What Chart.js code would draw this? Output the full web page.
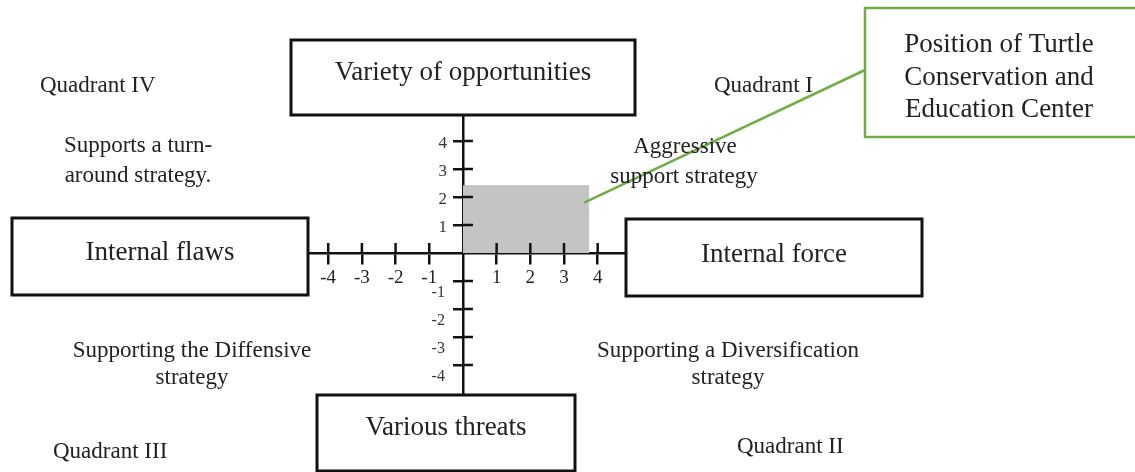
<!DOCTYPE html>
<html>
<head>
<meta charset="utf-8">
<script src="https://cdn.jsdelivr.net/npm/chart.js@4.4.1/dist/chart.umd.min.js"></script>
<style>
  html, body { margin: 0; padding: 0; background: #fff; }
  #wrap { width: 1135px; height: 472px; position: relative; }
</style>
</head>
<body>
<div id="wrap"><canvas id="chart"></canvas></div>
<script>
// ===== data =====
const xTickValues = [-4, -3, -2, -1, 1, 2, 3, 4];
const yTickValues = [4, 3, 2, 1, -1, -2, -3, -4];
// position of the centre (shaded area from origin to this point)
const positionX = [0, 3.75];
const positionY = [2.4, 2.4];
// where the callout line leaves the shaded area
const connectorFrom = [3.6, 1.8];

const SERIF = "'Liberation Serif', 'Times New Roman', serif";
const INK = '#222';
const GREEN = '#70ad47';

// boxed axis captions
const captionBoxes = [
  { text: 'Variety of opportunities', x: 291, y: 40, w: 344, h: 75, base: 80 },
  { text: 'Internal flaws', x: 12, y: 218, w: 296, h: 77, base: 260 },
  { text: 'Internal force', x: 626, y: 219, w: 296, h: 77, base: 262 },
  { text: 'Various threats', x: 317, y: 395, w: 258, h: 76, base: 435 },
];

// quadrant notes: [text, x, baseline, align]
const notes = [
  ['Quadrant IV', 40, 92, 'left'],
  ['Quadrant I', 714, 92, 'left'],
  ['Supports a turn-', 138, 152, 'center'],
  ['around strategy.', 138, 182, 'center'],
  ['Aggressive', 685, 153, 'center'],
  ['support strategy', 684, 183, 'center'],
  ['Supporting the Diffensive', 192, 357, 'center'],
  ['strategy', 192, 384, 'center'],
  ['Supporting a Diversification', 728, 357, 'center'],
  ['strategy', 728, 384, 'center'],
  ['Quadrant III', 53, 458, 'left'],
  ['Quadrant II', 737, 453, 'left'],
];

const callout = {
  lines: ['Position of Turtle', 'Conservation and', 'Education Center'],
  x: 865, y: 8, w: 280, h: 129, cx: 999, bases: [52, 85, 117],
};

const diagramPlugin = {
  id: 'diagram',
  afterDraw(chart) {
    const { ctx, scales: { x, y } } = chart;
    const x0 = x.getPixelForValue(0);
    const y0 = y.getPixelForValue(0);
    ctx.save();

    // other half of the tick marks, so they cross the axes
    ctx.strokeStyle = '#111';
    ctx.lineWidth = 2.5;
    ctx.beginPath();
    x.ticks.forEach(t => {
      const px = x.getPixelForValue(t.value);
      ctx.moveTo(px, y0 - 10);
      ctx.lineTo(px, y0);
    });
    y.ticks.forEach(t => {
      const py = y.getPixelForValue(t.value);
      ctx.moveTo(x0, py);
      ctx.lineTo(x0 + 10, py);
    });
    ctx.stroke();

    // y tick labels, left of the tick marks (negatives sit a bit lower, clear of the x labels)
    ctx.fillStyle = '#333';
    ctx.textAlign = 'right';
    ctx.textBaseline = 'middle';
    y.ticks.forEach(t => {
      const neg = t.value < 0;
      ctx.font = `${neg ? 16 : 17}px ${SERIF}`;
      ctx.fillText(String(t.value), x0 - (neg ? 18 : 16), y.getPixelForValue(t.value) + (neg ? 12 : 2));
    });

    // callout line from the shaded area to the box
    ctx.strokeStyle = GREEN;
    ctx.lineWidth = 2.5;
    ctx.beginPath();
    ctx.moveTo(x.getPixelForValue(connectorFrom[0]), y.getPixelForValue(connectorFrom[1]));
    ctx.lineTo(callout.x, callout.y + 62);
    ctx.stroke();

    // axis caption boxes
    ctx.textBaseline = 'alphabetic';
    captionBoxes.forEach(b => {
      ctx.fillStyle = '#fff';
      ctx.fillRect(b.x, b.y, b.w, b.h);
      ctx.strokeStyle = '#111';
      ctx.lineWidth = 3;
      ctx.strokeRect(b.x, b.y, b.w, b.h);
      ctx.fillStyle = INK;
      ctx.font = `27px ${SERIF}`;
      ctx.textAlign = 'center';
      ctx.fillText(b.text, b.x + b.w / 2, b.base);
    });

    // callout box
    ctx.fillStyle = '#fff';
    ctx.fillRect(callout.x, callout.y, callout.w, callout.h);
    ctx.strokeStyle = GREEN;
    ctx.lineWidth = 2.5;
    ctx.strokeRect(callout.x, callout.y, callout.w, callout.h);
    ctx.fillStyle = INK;
    ctx.font = `27px ${SERIF}`;
    ctx.textAlign = 'center';
    callout.lines.forEach((l, i) => ctx.fillText(l, callout.cx, callout.bases[i]));

    // quadrant notes
    ctx.font = `23px ${SERIF}`;
    notes.forEach(([t, px, py, align]) => {
      ctx.textAlign = align;
      ctx.fillText(t, px, py);
    });

    ctx.restore();
  },
};

const ctx = document.getElementById('chart').getContext('2d');
new Chart(ctx, {
  type: 'line',
  data: {
    datasets: [{
      label: 'Position',
      data: positionX.map((v, i) => ({ x: v, y: positionY[i] })),
      fill: 'origin',
      backgroundColor: '#c4c4c4',
      borderColor: '#b8b8b8',
      borderWidth: 1,
      pointRadius: 0,
      tension: 0,
    }],
  },
  options: {
    responsive: true,
    maintainAspectRatio: false,
    animation: false,
    layout: { padding: { left: 308, right: 508, top: 115, bottom: 77 } },
    plugins: { legend: { display: false }, tooltip: { enabled: false } },
    scales: {
      x: {
        type: 'linear',
        min: -4.6,
        max: 4.87,
        position: { y: 0 },
        z: 1,
        afterBuildTicks: (s) => { s.ticks = xTickValues.map(v => ({ value: v })); },
        grid: { drawOnChartArea: false, drawTicks: true, tickLength: 10, color: '#111', lineWidth: 2.5 },
        border: { color: '#111', width: 2.5 },
        ticks: { color: INK, font: { family: SERIF, size: 19 }, padding: 4, maxRotation: 0, autoSkip: false },
      },
      y: {
        type: 'linear',
        min: -5.07,
        max: 4.93,
        position: { x: 0 },
        z: 1,
        afterBuildTicks: (s) => { s.ticks = yTickValues.map(v => ({ value: v })); },
        grid: { drawOnChartArea: false, drawTicks: true, tickLength: 9, color: '#111', lineWidth: 2.5 },
        border: { color: '#111', width: 2.5 },
        ticks: { display: false },
      },
    },
  },
  plugins: [diagramPlugin],
});
</script>
</body>
</html>
